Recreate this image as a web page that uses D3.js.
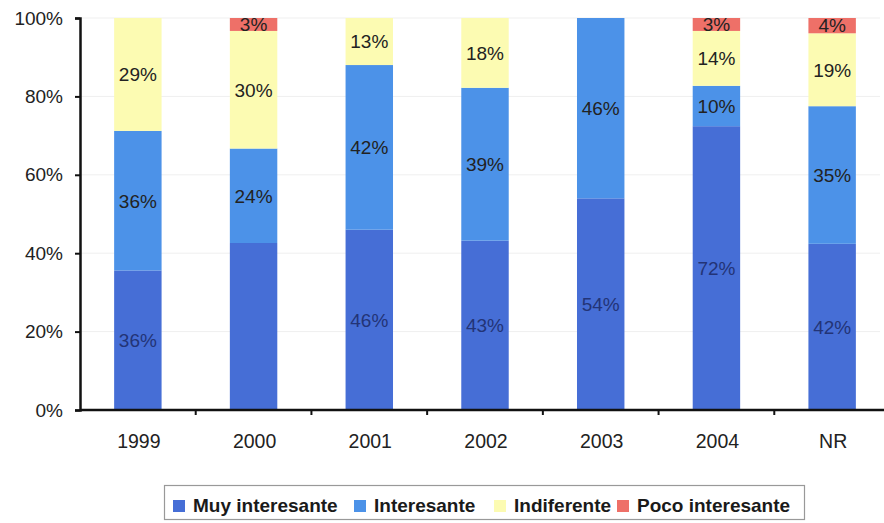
<!DOCTYPE html>
<html>
<head>
<meta charset="utf-8">
<script src="https://cdn.jsdelivr.net/npm/d3@7/dist/d3.min.js"></script>
<style>
  body { margin: 0; background: #fff; }
  svg { display: block; font-family: "Liberation Sans", Arial, sans-serif; }
</style>
</head>
<body>
<svg id="chart" width="884" height="523"></svg>
<script>
const categories = ["1999", "2000", "2001", "2002", "2003", "2004", "NR"];
const seriesNames = ["Muy interesante", "Interesante", "Indiferente", "Poco interesante"];
// values; labels show rounded percentages
const muyInteresante = [35.6, 42.6, 46, 43.2, 54, 72.4, 42.4];
const interesante = [35.6, 24.1, 42, 39, 46, 10.3, 35.1];
const indiferente = [28.8, 30, 13, 18, 0, 14, 18.6];
const pocoInteresante = [0, 3.3, 0, 0, 0, 3.3, 3.9];
// which labels are shown (2000 "Muy interesante" has no label in the original)
const showLabel = [
  [true, false, true, true, true, true, true],
  [true, true, true, true, true, true, true],
  [true, true, true, true, false, true, true],
  [false, true, false, false, false, true, true]
];
const yTicks = [0, 20, 40, 60, 80, 100];
const colors = ["#466ed6", "#4c92e8", "#fcfbb2", "#ee7068"];

const seriesValues = [muyInteresante, interesante, indiferente, pocoInteresante];
const data = categories.map((c, i) => {
  const o = { cat: c };
  seriesNames.forEach((s, k) => o[s] = seriesValues[k][i]);
  return o;
});

const svg = d3.select("#chart");
const margin = { left: 80, right: -6, top: 18, bottom: 113 };
const W = 884, H = 523;
const x = d3.scaleBand().domain(categories).range([margin.left, W - margin.right]).paddingInner(0.59).paddingOuter(0.295);
const y = d3.scaleLinear().domain([0, 100]).range([H - margin.bottom, margin.top]).clamp(true);

// gridlines
svg.append("g").selectAll("line").data(yTicks.filter(d => d > 0)).join("line")
  .attr("x1", margin.left).attr("x2", 880)
  .attr("y1", d => y(d)).attr("y2", d => y(d))
  .attr("stroke", "#efefef").attr("stroke-width", 1);

const stack = d3.stack().keys(seriesNames)(data);

const g = svg.append("g");
stack.forEach((layer, k) => {
  g.append("g").selectAll("rect").data(layer).join("rect")
    .attr("x", d => x(d.data.cat))
    .attr("width", x.bandwidth())
    .attr("y", d => y(d[1]))
    .attr("height", d => Math.max(0, y(d[0]) - y(d[1])))
    .attr("fill", colors[k]);
});

// labels
stack.forEach((layer, k) => {
  g.append("g").selectAll("text").data(layer.filter((d, i) => showLabel[k][i] && (d[1] - d[0]) > 0)).join("text")
    .attr("x", d => x(d.data.cat) + x.bandwidth() / 2)
    .attr("y", d => (y(d[0]) + y(Math.min(d[1], 100))) / 2)
    .attr("dy", "0.36em")
    .attr("text-anchor", "middle")
    .attr("font-size", 19)
    .attr("fill", k === 0 ? "#233476" : "#222")
    .text(d => Math.round(d[1] - d[0]) + "%");
});

// y axis
const yAxis = d3.axisLeft(y).tickValues(yTicks).tickFormat(d => d + "%").tickSize(5).tickPadding(12);
const ya = svg.append("g").attr("transform", `translate(${margin.left},0)`).call(yAxis);
ya.select(".domain").attr("stroke", "#111").attr("stroke-width", 2.5);
ya.selectAll(".tick line").attr("stroke", "#111").attr("stroke-width", 2);
ya.selectAll("text").attr("font-size", 19).attr("fill", "#222").attr("font-family", "Liberation Sans, Arial, sans-serif");

// x axis
const xa = svg.append("g").attr("transform", `translate(0,${y(0)})`);
xa.append("line").attr("x1", margin.left).attr("x2", 884).attr("stroke", "#111").attr("stroke-width", 2.5);
const step = x.step();
const boundaries = categories.slice(1).map(c => x(c) - (step - x.bandwidth()) / 2);
xa.selectAll("line.tk").data(boundaries).join("line").attr("class", "tk")
  .attr("x1", d => d).attr("x2", d => d).attr("y1", 0).attr("y2", 5)
  .attr("stroke", "#111").attr("stroke-width", 2);
xa.selectAll("text").data(categories).join("text")
  .attr("x", d => x(d) + x.bandwidth() / 2 + 1)
  .attr("y", 38)
  .attr("text-anchor", "middle")
  .attr("font-size", 19.5)
  .attr("fill", "#222")
  .text(d => d);

// legend
const lg = svg.append("g");
lg.append("rect").attr("x", 164.5).attr("y", 485.5).attr("width", 640).attr("height", 34)
  .attr("fill", "#fff").attr("stroke", "#999").attr("stroke-width", 1.2);
const legendX = [173, 354, 494, 617];
seriesNames.forEach((s, k) => {
  lg.append("rect").attr("x", legendX[k]).attr("y", 500).attr("width", 12).attr("height", 12).attr("fill", colors[k]);
  lg.append("text").attr("x", legendX[k] + 20).attr("y", 511.5).attr("font-size", 19).attr("font-weight", "bold")
    .attr("fill", "#1a1a1a").text(s);
});
</script>
</body>
</html>
